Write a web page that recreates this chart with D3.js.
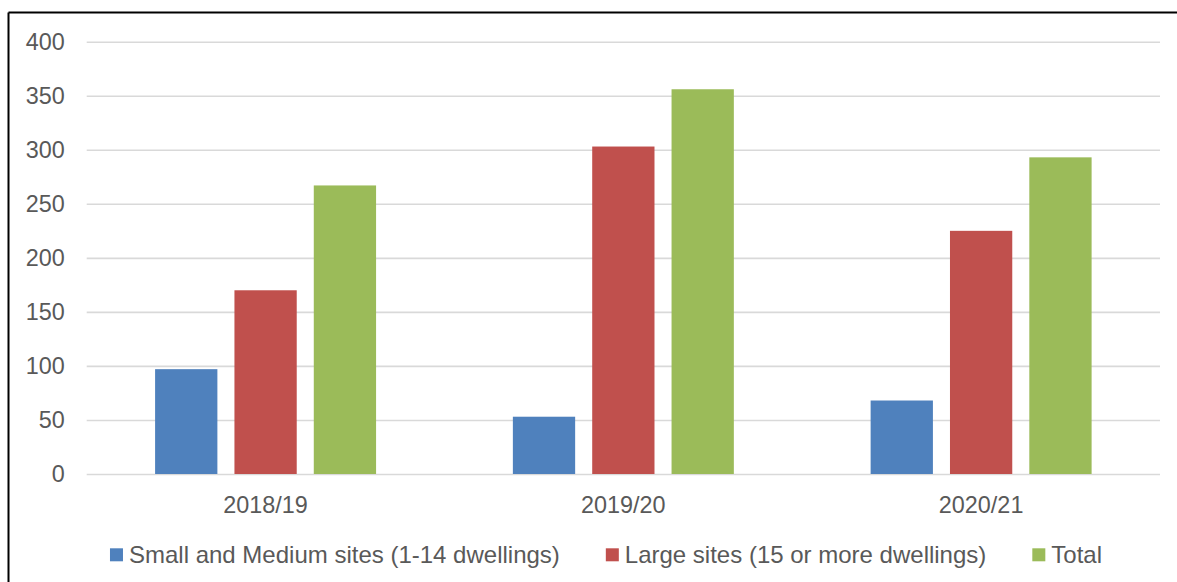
<!DOCTYPE html>
<html>
<head>
<meta charset="utf-8">
<script src="https://cdn.jsdelivr.net/npm/d3@7"></script>
<style>
  html, body { margin: 0; padding: 0; background: #ffffff; }
  svg { display: block; }
  text { font-family: "Liberation Sans", Arial, sans-serif; fill: #595959; }
</style>
</head>
<body>
<svg id="chart" width="1177" height="582"></svg>
<script>
// Completed dwellings by site size, per monitoring year
const categories = ["2018/19", "2019/20", "2020/21"];
const seriesNames = [
  "Small and Medium sites (1-14 dwellings)",
  "Large sites (15 or more dwellings)",
  "Total"
];
const smallMedium = [97, 53, 68];
const largeSites = [170, 303, 225];
const totals = [267, 356, 293];
const yTicks = [0, 50, 100, 150, 200, 250, 300, 350, 400];
const colors = ["#4f81bd", "#c0504d", "#9bbb59"];

const seriesValues = [smallMedium, largeSites, totals];

const svg = d3.select("#chart");

// outer chart frame (top and left edges visible)
svg.append("line").attr("x1", 8.5).attr("x2", 1177).attr("y1", 12.5).attr("y2", 12.5)
  .attr("stroke", "#000").attr("stroke-width", 2);
svg.append("line").attr("x1", 8.5).attr("x2", 8.5).attr("y1", 12.5).attr("y2", 582)
  .attr("stroke", "#000").attr("stroke-width", 2);

const plot = { left: 86.7, right: 1160, top: 41.7, bottom: 474 };

const y = d3.scaleLinear().domain([0, 400]).range([plot.bottom, plot.top]);
const x0 = d3.scaleBand().domain(categories).range([plot.left, plot.right]).padding(0);
const x1 = d3.scaleBand().domain(d3.range(seriesNames.length))
  .range([0, x0.bandwidth()]).paddingInner(0.215).paddingOuter(0.862);

// horizontal gridlines
const yAxis = d3.axisLeft(y).tickValues(yTicks).tickSize(-(plot.right - plot.left)).tickPadding(22);
const gy = svg.append("g").attr("transform", `translate(${plot.left},0)`).call(yAxis);
gy.select(".domain").remove();
gy.selectAll(".tick line").attr("stroke", "#d9d9d9").attr("stroke-width", 1.6);
gy.selectAll(".tick text")
  .style("font-size", "23.4px")
  .style("font-family", '"Liberation Sans", Arial, sans-serif')
  .attr("fill", "#595959");

// category labels
const xAxis = d3.axisBottom(x0).tickSize(0).tickPadding(22);
const gx = svg.append("g").attr("transform", `translate(0,${plot.bottom})`).call(xAxis);
gx.select(".domain").remove();
gx.selectAll(".tick text")
  .style("font-size", "23.4px")
  .style("font-family", '"Liberation Sans", Arial, sans-serif')
  .attr("fill", "#595959");

// bars
const groups = svg.append("g").selectAll("g")
  .data(categories)
  .join("g")
  .attr("transform", d => `translate(${x0(d)},0)`);

groups.selectAll("rect")
  .data((d, ci) => seriesValues.map((vals, si) => ({ si, v: vals[ci] })))
  .join("rect")
  .attr("x", d => x1(d.si))
  .attr("width", x1.bandwidth())
  .attr("y", d => y(d.v))
  .attr("height", d => y(0) - y(d.v))
  .attr("fill", d => colors[d.si]);

// legend
const legend = svg.append("g");
const items = legend.selectAll("g").data(seriesNames).join("g");
items.append("rect")
  .attr("width", 13).attr("height", 13)
  .attr("y", 548.3)
  .attr("fill", (d, i) => colors[i]);
items.append("text")
  .attr("x", 19)
  .attr("y", 562.5)
  .style("font-size", "24px")
  .text(d => d);

const gap = 46;
let widths = [];
items.each(function () {
  widths.push(19 + d3.select(this).select("text").node().getComputedTextLength());
});
const totalW = d3.sum(widths) + gap * (widths.length - 1);
let cx = 606 - totalW / 2;
items.attr("transform", (d, i) => {
  const t = `translate(${cx},0)`;
  cx += widths[i] + gap;
  return t;
});
</script>
</body>
</html>
